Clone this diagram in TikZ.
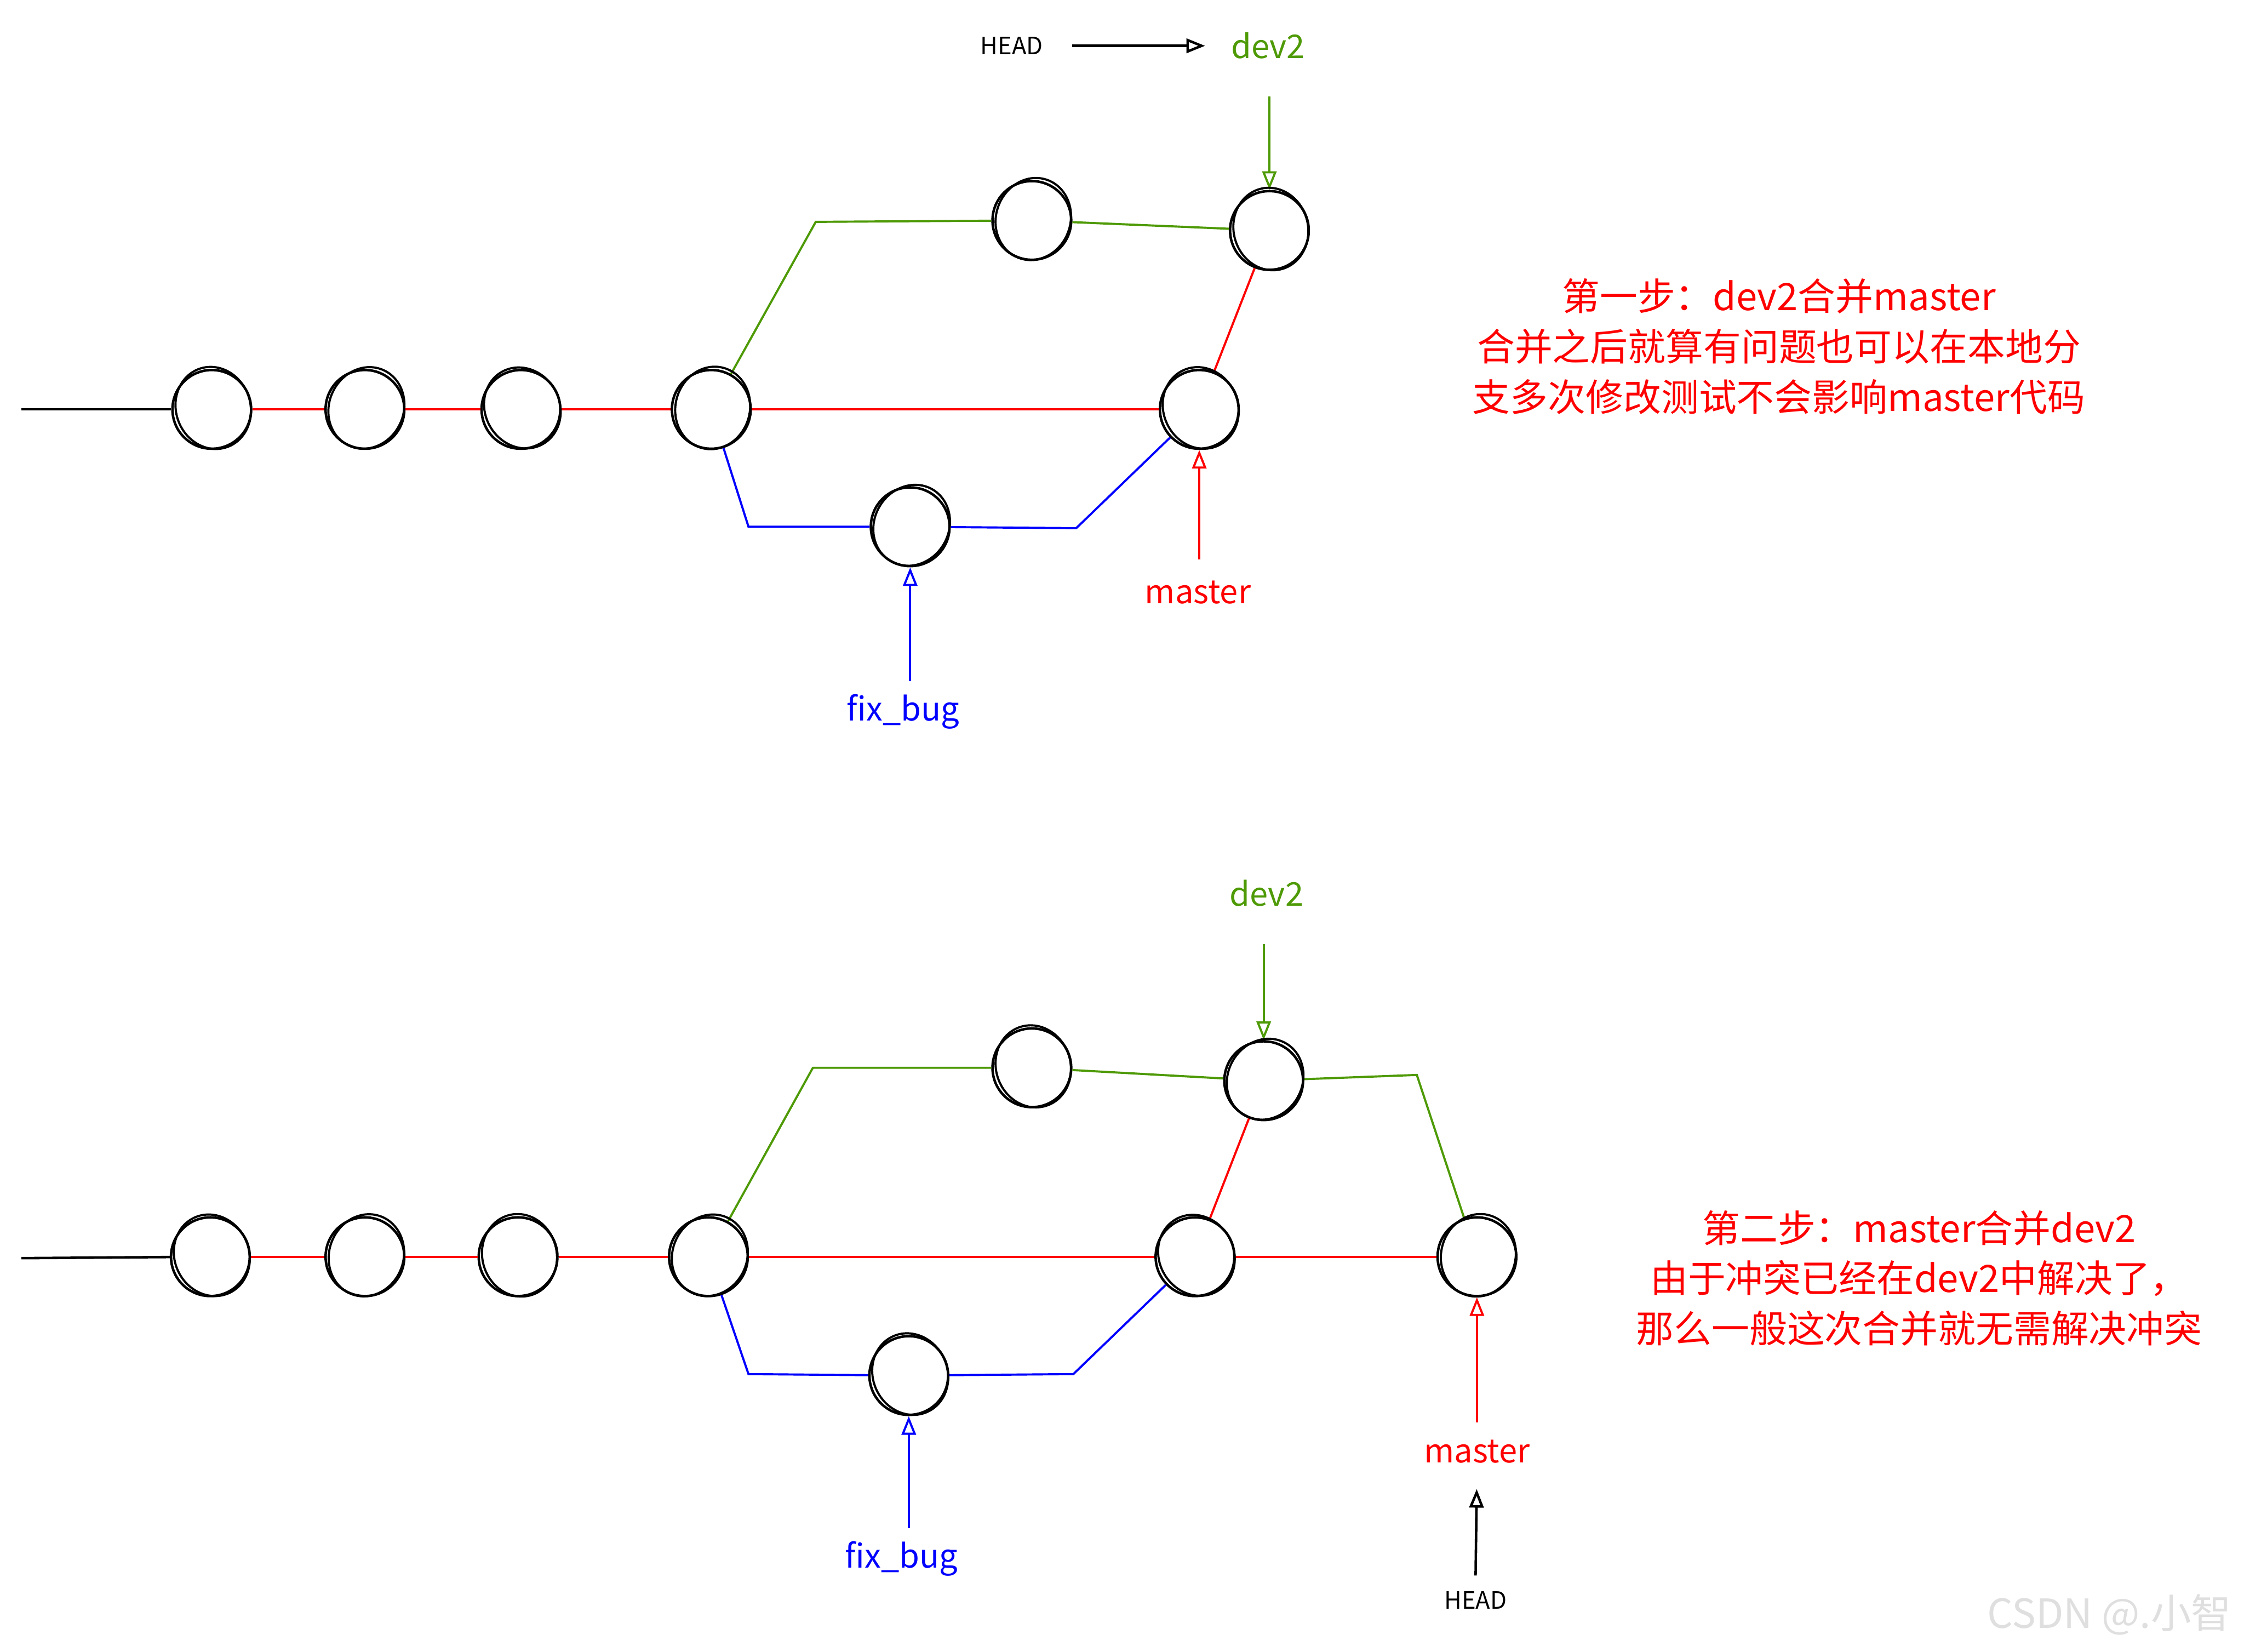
\documentclass[tikz,border=0pt]{standalone}
\usepackage{fontspec}
\setmainfont{Noto Sans CJK SC}
\usetikzlibrary{arrows.meta}

\definecolor{gitgreen}{RGB}{78,154,6}
\definecolor{gitred}{RGB}{255,0,0}
\definecolor{gitblue}{RGB}{0,0,255}

\begin{document}
\begin{tikzpicture}[
    x=0.2mm, y=-0.2mm,
    >={Triangle[open, length=2.6mm, width=2mm]},
    commit/.style={circle, draw, line width=0.35mm, minimum size=11mm, inner sep=0pt},
    sketch/.style={line width=0.3mm},
    mline/.style={gitred, line width=0.3mm},
    dline/.style={gitgreen, line width=0.3mm},
    fline/.style={gitblue, line width=0.3mm},
    branch/.style={font=\fontsize{13}{15}\selectfont},
    headlbl/.style={font=\fontsize{9.5}{11}\selectfont},
    note/.style={gitred, align=center, font=\fontsize{15}{20}\selectfont}
]
\useasboundingbox (0,0) rectangle (1568,1154);

% Schritt 1: dev2 merges master
\coordinate (tstart) at (15,286);
\node[commit] (t1) at (148,286) {};
\node[commit] (t2) at (255,286) {};
\node[commit] (t3) at (364,286) {};
\node[commit] (t4) at (497,286) {};
\node[commit] (t5) at (838,286) {};
\node[commit] (tg1) at (721,154) {};
\node[commit] (tg2) at (887,161) {};
\node[commit] (tb1) at (636,368) {};

\draw[line width=0.35mm] (tstart) -- (t1);
\draw[mline] (t1) -- (t2);
\draw[mline] (t2) -- (t3);
\draw[mline] (t3) -- (t4);
\draw[mline] (t4) -- (t5);
\draw[mline] (tg2) -- (t5);
\draw[dline] (t4) -- (570,155) -- (tg1);
\draw[dline] (tg1) -- (tg2);
\draw[fline] (t4) -- (523,368) -- (tb1);
\draw[fline] (tb1) -- (752,369) -- (t5);

\node[headlbl] (thead) at (707,32) {HEAD};
\node[branch, text=gitgreen] (tdev) at (886,32) {dev2};
\node[branch, text=gitred] (tmaster) at (837,414) {master};
\node[branch, text=gitblue] (tfix) at (631,497) {fix\_bug};

\draw[->, line width=0.35mm, shorten <=2.8mm, shorten >=2.4mm] (thead.east) -- (tdev.west |- thead.east);
\draw[->, dline, shorten <=4mm] (tdev.south -| tg2.north) -- (tg2.north);
\draw[->, mline, shorten <=1.8mm] (tmaster.north -| t5.south) -- (t5.south);
\draw[->, fline, shorten <=0.6mm] (tfix.north -| tb1.south) -- (tb1.south);

\node[note] (tnote) at (1243,242) {第一步：dev2合并master\\合并之后就算有问题也可以在本地分\\支多次修改测试不会影响master代码};

% Schritt 2: master merges dev2
\coordinate (bstart) at (15,879);
\node[commit] (b1) at (147,878) {};
\node[commit] (b2) at (255,878) {};
\node[commit] (b3) at (362,878) {};
\node[commit] (b4) at (495,878) {};
\node[commit] (b5) at (835,878) {};
\node[commit] (b6) at (1032,878) {};
\node[commit] (bg1) at (721,746) {};
\node[commit] (bg2) at (883,755) {};
\node[commit] (bb1) at (635,961) {};

\draw[line width=0.35mm] (bstart) -- (b1);
\draw[mline] (b1) -- (b2);
\draw[mline] (b2) -- (b3);
\draw[mline] (b3) -- (b4);
\draw[mline] (b4) -- (b5);
\draw[mline] (b5) -- (b6);
\draw[mline] (bg2) -- (b5);
\draw[dline] (b4) -- (568,746) -- (bg1);
\draw[dline] (bg1) -- (bg2);
\draw[dline] (bg2) -- (990,751) -- (b6);
\draw[fline] (b4) -- (523,960) -- (bb1);
\draw[fline] (bb1) -- (750,960) -- (b5);

\node[branch, text=gitgreen] (bdev) at (885,624) {dev2};
\node[branch, text=gitred] (bmaster) at (1032,1014) {master};
\node[branch, text=gitblue] (bfix) at (630,1089) {fix\_bug};
\node[headlbl] (bhead) at (1031,1118) {HEAD};

\draw[->, dline, shorten <=4mm] (bdev.south -| bg2.north) -- (bg2.north);
\draw[->, mline, shorten <=1.2mm] (bmaster.north -| b6.south) -- (b6.south);
\draw[->, fline, shorten <=0.6mm] (bfix.north -| bb1.south) -- (bb1.south);
\draw[->, line width=0.35mm, shorten <=1mm, shorten >=2.4mm] (bhead.north) -- (bmaster.south);

\node[note] (bnote) at (1341,893) {第二步：master合并dev2\\由于冲突已经在dev2中解决了，\\那么一般这次合并就无需解决冲突};

% sketchy second stroke
\foreach \n/\a in {t1/20, t2/-25, t3/30, t4/-15, t5/25, tg1/-20, tg2/15, tb1/-30,
                   b1/25, b2/-20, b3/15, b4/-25, b5/30, b6/-15, bg1/20, bg2/-30, bb1/25}
  \draw[sketch] ([shift={(1,-1)}]\n.center) ellipse [x radius=26, y radius=29, rotate=\a];

\node[text=gray!25, font=\fontsize{16}{18}\selectfont] (mark) at (1474,1128) {CSDN @.小智};
\end{tikzpicture}
\end{document}
